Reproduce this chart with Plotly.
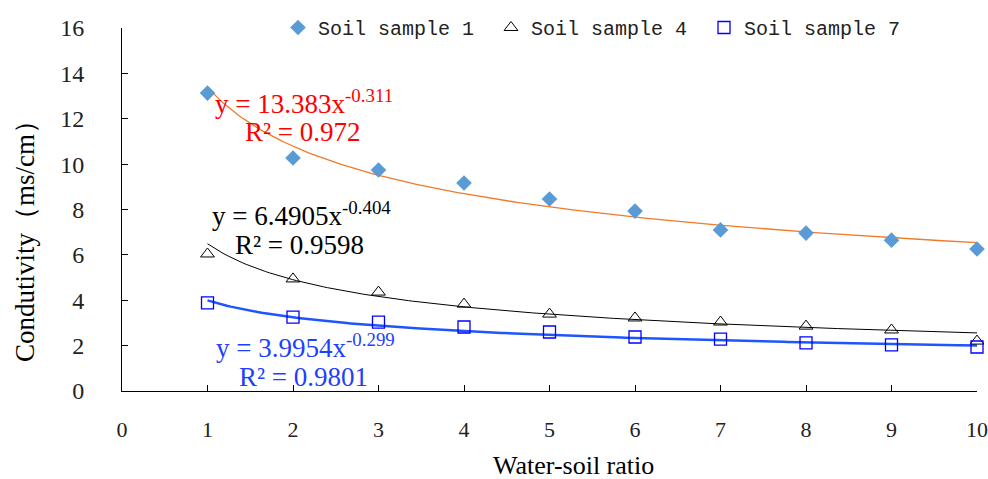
import numpy as np
import plotly.graph_objects as go

ratio = [1, 2, 3, 4, 5, 6, 7, 8, 9, 10]
sample1 = [13.13, 10.27, 9.74, 9.17, 8.46, 7.93, 7.10, 6.96, 6.65, 6.26]
sample4 = [6.04, 4.94, 4.36, 3.83, 3.39, 3.22, 3.04, 2.86, 2.69, 2.20]
sample7 = [3.88, 3.26, 3.04, 2.82, 2.60, 2.38, 2.29, 2.12, 2.03, 1.94]

fit1 = (13.383, -0.311, 0.972)
fit4 = (6.4905, -0.404, 0.9598)
fit7 = (3.9954, -0.299, 0.9801)

xs = np.linspace(1, 10, 200)

fig = go.Figure()

def trend(fit, color, width):
    a, b, _ = fit
    fig.add_trace(go.Scatter(x=xs, y=a * xs ** b, mode="lines",
                             line=dict(color=color, width=width),
                             showlegend=False, hoverinfo="skip", cliponaxis=False))

trend(fit1, "#F07A2A", 1.3)
trend(fit4, "#000000", 1.0)
trend(fit7, "#1F55FF", 2.5)

fig.add_trace(go.Scatter(x=ratio, y=sample1, mode="markers", name="Soil sample 1",
                         marker=dict(symbol="diamond", size=12, color="#5B9BD5"),
                         cliponaxis=False))
fig.add_trace(go.Scatter(x=ratio, y=sample4, mode="markers", name="Soil sample 4",
                         marker=dict(symbol="triangle-up-open", size=12, color="#000000",
                                     line=dict(width=1)),
                         cliponaxis=False))
fig.add_trace(go.Scatter(x=ratio, y=sample7, mode="markers", name="Soil sample 7",
                         marker=dict(symbol="square-open", size=12, color="#0000FF",
                                     line=dict(width=1.3)),
                         cliponaxis=False))

serif = "Liberation Serif, Times New Roman, serif"

# page body has an 8px margin; figure coordinates = screen - 8
OFF = 8
W, H = 988 - OFF, 479 - OFF
L, R, T, B = 122 - OFF, 977 - OFF, 28 - OFF, 391 - OFF
def px(xs_):
    return (xs_ - OFF - L) / (R - L)
def py(ys_):
    return (B - (ys_ - OFF)) / (B - T)

def eq_annots(fit, color, x1, y1, x2, y2):
    a, b, r2 = fit
    fig.add_annotation(x=x1, y=y1, xref="x", yref="y", xanchor="left", yanchor="middle",
                       text=f"y = {a}x<sup>{b}</sup>", showarrow=False,
                       font=dict(family=serif, size=27, color=color))
    fig.add_annotation(x=x2, y=y2, xref="x", yref="y", xanchor="left", yanchor="middle",
                       text=f"R² = {r2}", showarrow=False,
                       font=dict(family=serif, size=27, color=color))

eq_annots(fit1, "#FF0000", 1.06, 12.75, 1.42, 11.4)
eq_annots(fit4, "#000000", 1.03, 7.8, 1.30, 6.45)
eq_annots(fit7, "#1F3FFF", 1.08, 2.0, 1.34, 0.6)

fig.add_annotation(x=px(25), y=py(235), xref="paper", yref="paper", text="Condutivity（ms/cm）",
                   textangle=-90, showarrow=False, xanchor="center", yanchor="middle",
                   font=dict(family=serif, size=27, color="#000000"))
fig.add_annotation(x=px(573), y=py(465), xref="paper", yref="paper",
                   text="Water-soil ratio", showarrow=False, xanchor="center", yanchor="middle",
                   font=dict(family=serif, size=26, color="#000000"))

fig.update_layout(
    width=W, height=H,
    margin=dict(l=L, r=W - R, t=T, b=H - B, autoexpand=False),
    plot_bgcolor="white", paper_bgcolor="white",
    showlegend=True,
    legend=dict(orientation="h", x=(278 - OFF) / W, y=1.0, xref="container", yref="container",
                xanchor="left", yanchor="top",
                font=dict(family="Liberation Mono, monospace", size=20, color="#222222"),
                itemwidth=30, tracegroupgap=0, bgcolor="rgba(0,0,0,0)",
                entrywidth=168, entrywidthmode="pixels"),
    xaxis=dict(range=[0, 10], tickmode="array", tickvals=list(range(0, 11)),
               showline=True, linecolor="#000000", linewidth=1, showgrid=False, zeroline=False,
               ticks="inside", ticklen=6, tickcolor="#000000",
               tickfont=dict(family=serif, size=22, color="#222222"),
               ticklabelstandoff=19, ticklabeloverflow="allow", ticklabelshift=0),
    yaxis=dict(range=[0, 16], tickmode="array", tickvals=list(range(0, 17, 2)),
               showline=True, linecolor="#000000", linewidth=1, showgrid=False, zeroline=False,
               ticks="inside", ticklen=6, tickcolor="#000000",
               tickfont=dict(family=serif, size=24, color="#222222"),
               ticklabelstandoff=32, ticklabeloverflow="allow"),
)

fig.write_html("out.html", post_script="document.body.style.margin='8px 0 0 8px';document.body.style.overflow='hidden';")
